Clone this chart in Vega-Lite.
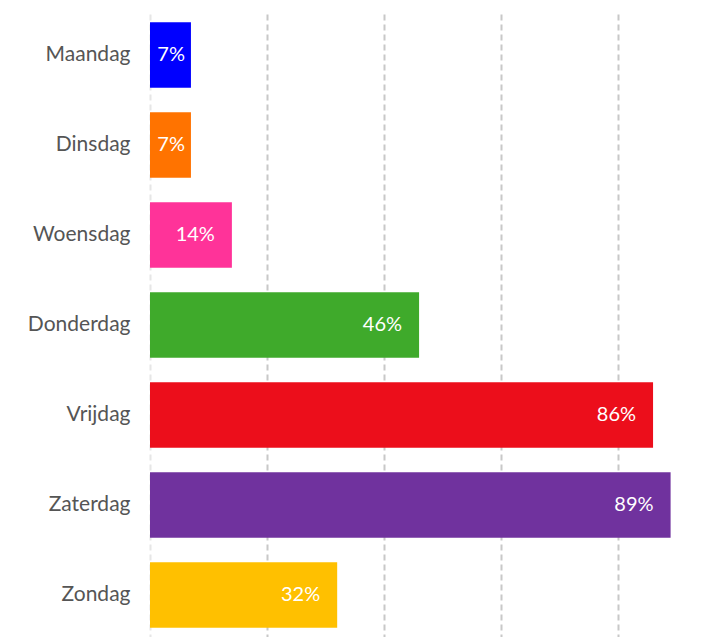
{
  "$schema": "https://vega.github.io/schema/vega-lite/v6.json",
  "autosize": "none",
  "padding": {"left": 150, "top": 10, "right": 0, "bottom": 0},
  "width": 575,
  "height": 630,
  "background": "white",
  "config": {"view": {"stroke": null}, "font": "Lato"},
  "data": {
    "values": [
      {"dag": "Maandag", "pct": 0.07, "label": "7%", "kleur": "#0000FF"},
      {"dag": "Dinsdag", "pct": 0.07, "label": "7%", "kleur": "#FF7300"},
      {"dag": "Woensdag", "pct": 0.14, "label": "14%", "kleur": "#FF3399"},
      {"dag": "Donderdag", "pct": 0.46, "label": "46%", "kleur": "#3FAA2B"},
      {"dag": "Vrijdag", "pct": 0.86, "label": "86%", "kleur": "#EC0E1B"},
      {"dag": "Zaterdag", "pct": 0.89, "label": "89%", "kleur": "#70329E"},
      {"dag": "Zondag", "pct": 0.32, "label": "32%", "kleur": "#FFC000"}
    ]
  },
  "encoding": {
    "y": {
      "field": "dag", "type": "nominal", "sort": null,
      "scale": {"paddingInner": 0.27, "paddingOuter": 0.135},
      "axis": {"title": null, "ticks": false, "domain": false, "labelPadding": 20, "labelFontSize": 21, "labelColor": "#555555", "labelFont": "Lato"}
    },
    "x": {
      "field": "pct", "type": "quantitative",
      "scale": {"domain": [0, 0.983], "nice": false},
      "axis": {"title": null, "labels": false, "ticks": false, "domain": false, "values": [0, 0.2, 0.4, 0.6, 0.8],
        "grid": true, "gridDash": [6, 4], "gridWidth": 2,
        "gridColor": {"condition": {"test": "datum.value === 0", "value": "#e6e6e6"}, "value": "#c8c8c8"}}
    }
  },
  "layer": [
    {"mark": {"type": "bar"}, "encoding": {"color": {"field": "kleur", "type": "nominal", "scale": null}}},
    {"transform": [{"filter": "datum.pct >= 0.1"}],
     "mark": {"type": "text", "align": "right", "baseline": "middle", "dx": -17, "fontSize": 20, "color": "white", "font": "Lato"},
     "encoding": {"text": {"field": "label"}}},
    {"transform": [{"filter": "datum.pct < 0.1"}],
     "mark": {"type": "text", "align": "right", "baseline": "middle", "dx": -6, "fontSize": 20, "color": "white", "font": "Lato"},
     "encoding": {"text": {"field": "label"}}}
  ]
}
